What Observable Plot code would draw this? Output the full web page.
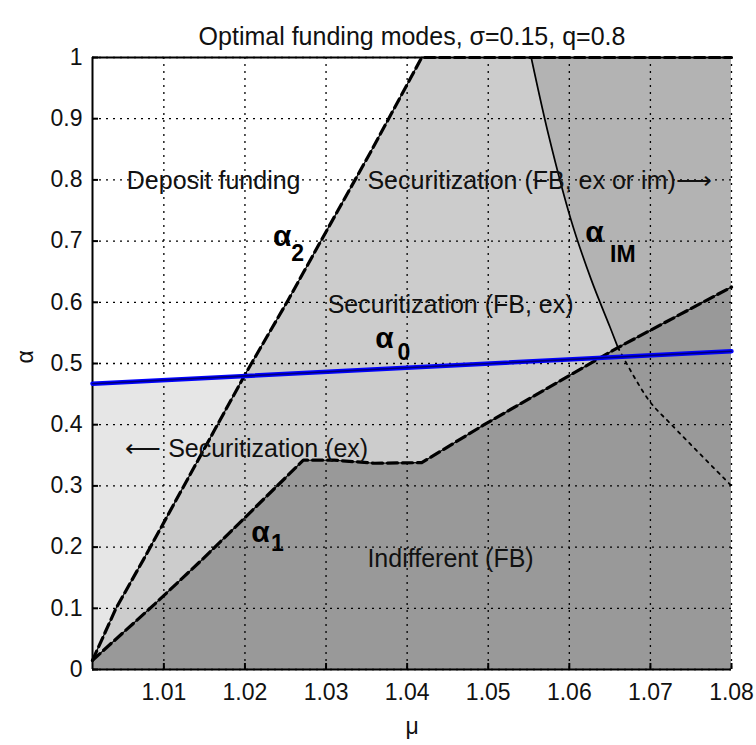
<!DOCTYPE html>
<html><head><meta charset="utf-8">
<script src="https://cdn.jsdelivr.net/npm/d3@7"></script>
<script src="https://cdn.jsdelivr.net/npm/@observablehq/plot@0.6"></script>
<style>body{margin:0;background:#fff}</style>
</head><body><div id="chart"></div>
<script>
// ---- data ----
const titleText = "Optimal funding modes, σ=0.15, q=0.8";
const xDomain = [1.0012, 1.08];
const yDomain = [0, 1];
const xTicks = [1.01, 1.02, 1.03, 1.04, 1.05, 1.06, 1.07, 1.08];
const yTicks = [0, 0.1, 0.2, 0.3, 0.4, 0.5, 0.6, 0.7, 0.8, 0.9, 1];

const alpha0Mu = [1.0012, 1.08];
const alpha0   = [0.467, 0.52];

const alpha1Mu = [1.0012, 1.0088, 1.0146, 1.0272, 1.031, 1.036, 1.0418, 1.0495, 1.066, 1.08];
const alpha1   = [0.015, 0.106, 0.178, 0.342, 0.342, 0.337, 0.338, 0.40, 0.526, 0.625];

const alpha2Mu = [1.0012, 1.0041, 1.0075, 1.0162, 1.0201, 1.0253, 1.0294, 1.0356, 1.0418, 1.06, 1.08];
const alpha2   = [0.015, 0.10, 0.18, 0.39, 0.484, 0.603, 0.701, 0.848, 1.0, 1.0, 1.0];

const alphaIMUpperMu = [1.0553, 1.0575, 1.0602, 1.0627, 1.0650, 1.066];
const alphaIMUpper   = [1.0, 0.87, 0.735, 0.637, 0.56, 0.526];
const alphaIMLowerMu = [1.066, 1.0698, 1.0726, 1.08];
const alphaIMLower   = [0.526, 0.44, 0.40, 0.30];

const regionLabels = ["Deposit funding", "Securitization (FB, ex or im)⟶", "Securitization (FB, ex)", "⟵ Securitization (ex)", "Indifferent (FB)"];
const regionLabelMu = [1.02685, 1.0351, 1.0302, 1.0352, 1.0351];
const regionLabelA  = [0.799, 0.799, 0.595, 0.361, 0.180];
const regionLabelAnchor = ["end", "start", "start", "end", "start"];

const curveSymbols = ["α", "α", "α", "α"];
const curveSymbolMu = [1.0246, 1.0631, 1.0372, 1.0219];
const curveSymbolA  = [0.7075, 0.714, 0.541, 0.224];
const curveSubs = ["2", "IM", "0", "1"];
const curveSubMu = [1.0265, 1.0666, 1.0396, 1.0240];
const curveSubA  = [0.680, 0.678, 0.518, 0.205];

// ---- tables ----
const zip = (xs, ys) => xs.map((x, i) => ({x, y: ys[i]}));
const a0 = zip(alpha0Mu, alpha0);
const a1 = zip(alpha1Mu, alpha1);
const a2 = zip(alpha2Mu, alpha2);
const aimU = zip(alphaIMUpperMu, alphaIMUpper);
const aimL = zip(alphaIMLowerMu, alphaIMLower);
const aimAll = aimU.concat(aimL.slice(1));
const labels = regionLabels.map((t, i) => ({t, x: regionLabelMu[i], y: regionLabelA[i], anchor: regionLabelAnchor[i]}));
const syms = curveSymbols.map((t, i) => ({t, x: curveSymbolMu[i], y: curveSymbolA[i]}));
const subs = curveSubs.map((t, i) => ({t, x: curveSubMu[i], y: curveSubA[i]}));

const W = 756, H = 745, mL = 92, mR = 25, mT = 57, mB = 76;
const innerW = W - mL - mR, innerH = H - mT - mB;
const ink = "#111";
const dots = "2,5";

const chart = Plot.plot({
  width: W, height: H,
  marginLeft: mL, marginRight: mR, marginTop: mT, marginBottom: mB,
  style: {fontFamily: "'Liberation Sans', Arial, sans-serif", fontSize: "23px", color: ink, background: "#fff", overflow: "visible"},
  x: {domain: xDomain, ticks: xTicks, tickFormat: d => d.toFixed(2), tickSize: 0, tickPadding: 14, label: null},
  y: {domain: yDomain, ticks: yTicks, tickFormat: d => String(d), tickSize: 0, tickPadding: 10, label: null},
  marks: [
    // shaded regions
    Plot.areaY(a0, {x: "x", y1: 0, y2: "y", fill: "#e6e6e6"}),
    Plot.areaY(a2, {x: "x", y1: 0, y2: "y", fill: "#cccccc"}),
    Plot.areaX(aimAll, {y: "y", x1: "x", x2: xDomain[1], fill: "#b3b3b3", curve: "catmull-rom"}),
    Plot.areaY(a1, {x: "x", y1: 0, y2: "y", fill: "#999999"}),
    // dotted grid
    Plot.ruleX(xTicks, {stroke: "#000", strokeDasharray: dots, strokeWidth: 1.3}),
    Plot.ruleY(yTicks, {stroke: "#000", strokeDasharray: dots, strokeWidth: 1.3}),
    // axes lines and inner ticks
    Plot.ruleX([xDomain[0]], {stroke: "#000", strokeWidth: 2}),
    Plot.ruleY([yDomain[0], yDomain[1]], {stroke: "#000", strokeWidth: 2}),
    Plot.tickX(xTicks, {x: d => d, stroke: "#000", strokeWidth: 2, insetTop: innerH - 6}),
    Plot.tickY(yTicks, {y: d => d, stroke: "#000", strokeWidth: 2, insetRight: innerW - 6}),
    // curves
    Plot.line(aimU, {x: "x", y: "y", stroke: "#000", strokeWidth: 1.7, curve: "catmull-rom"}),
    Plot.line(aimL, {x: "x", y: "y", stroke: "#000", strokeWidth: 1.8, strokeDasharray: "3,5", curve: "catmull-rom"}),
    Plot.line(a2, {x: "x", y: "y", stroke: "#000", strokeWidth: 1.1}),
    Plot.line(a2, {x: "x", y: "y", stroke: "#000", strokeWidth: 3.2, strokeDasharray: "10,5"}),
    Plot.line(a1, {x: "x", y: "y", stroke: "#000", strokeWidth: 1.1}),
    Plot.line(a1, {x: "x", y: "y", stroke: "#000", strokeWidth: 3.2, strokeDasharray: "10,5"}),
    Plot.line(a0, {x: "x", y: "y", stroke: "#0000ff", strokeWidth: 4.5}),
    Plot.line(a0, {x: "x", y: "y", stroke: "#00007a", strokeWidth: 1.6}),
    // region labels
    Plot.text(labels.filter(d => d.anchor === "start"), {x: "x", y: "y", text: "t", textAnchor: "start", fill: ink, fontSize: 25}),
    Plot.text(labels.filter(d => d.anchor === "end"), {x: "x", y: "y", text: "t", textAnchor: "end", fill: ink, fontSize: 25}),
    // curve names
    Plot.text(syms, {x: "x", y: "y", text: "t", fill: "#000", fontSize: 30, fontWeight: "bold"}),
    Plot.text(subs, {x: "x", y: "y", text: "t", fill: "#000", fontSize: 23, fontWeight: "bold"}),
    // title and axis labels
    Plot.text([titleText], {frameAnchor: "top", dy: -30, fill: ink, fontSize: 25}),
    Plot.text(["μ"], {frameAnchor: "bottom", dy: 64, fill: ink, fontSize: 23}),
    Plot.text(["α"], {frameAnchor: "left", dx: -67, rotate: -90, fill: ink, fontSize: 23})
  ]
});
document.getElementById("chart").appendChild(chart);
</script>
</body></html>
